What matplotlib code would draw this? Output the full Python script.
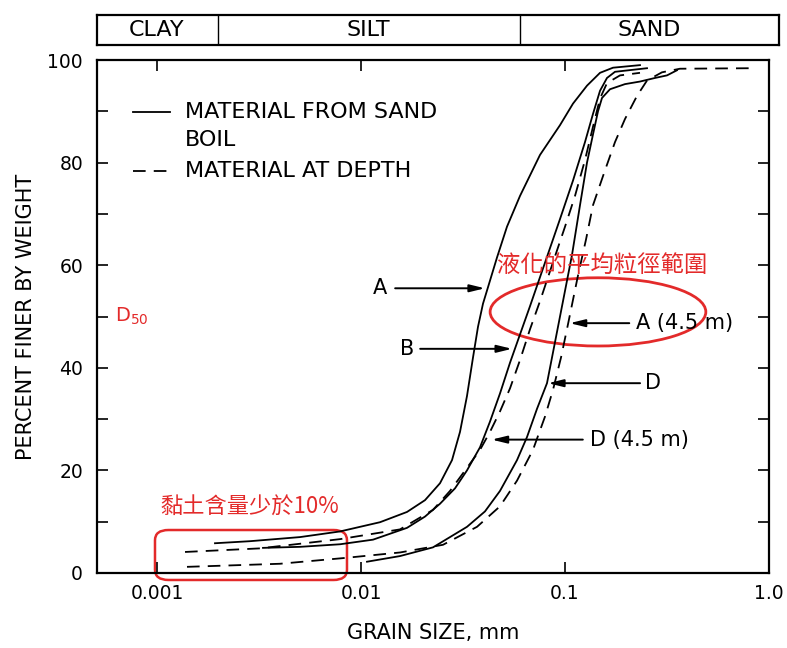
import matplotlib.pyplot as plt
from matplotlib.patches import Ellipse, FancyBboxPatch
from matplotlib.ticker import NullLocator

plt.rcParams['font.family'] = ['DejaVu Sans', 'Noto Sans CJK TC']

# grain size (mm) vs percent finer
# A - sand boil (solid)
a_size = [0.001924, 0.002857, 0.005023, 0.00789, 0.012392, 0.016807,
          0.020595, 0.024394, 0.027932, 0.030568, 0.033078, 0.0354,
          0.037456, 0.039628, 0.041925, 0.046416, 0.051946, 0.060167,
          0.075422, 0.094514, 0.10945, 0.128189, 0.148462, 0.171907, 0.23313]
a_pct = [5.8, 6.2, 7.0, 8.1, 9.9, 11.9, 14.2, 17.5, 22.0, 27.5, 34.5, 42.0,
         48.0, 52.5, 55.7, 61.5, 67.5, 73.5, 81.5, 87.3, 91.5, 95.0, 97.5,
         98.5, 99.0]
# B - sand boil (solid)
b_size = [0.003308, 0.005023, 0.00789, 0.011454, 0.016807, 0.020595,
          0.024394, 0.028894, 0.033078, 0.038308, 0.042875, 0.048014,
          0.053767, 0.060167, 0.06735, 0.079799, 0.094514, 0.10945,
          0.125314, 0.13717, 0.148462, 0.16064, 0.175828, 0.252348]
b_pct = [4.9, 5.1, 5.6, 6.5, 8.8, 11.0, 13.5, 16.5, 20.0, 24.5, 29.5, 35.0,
         41.0, 46.5, 52.0, 60.5, 69.0, 76.5, 84.0, 89.5, 94.0, 96.5, 97.7,
         98.4]
# D - sand boil (solid)
d_size = [0.010701, 0.01553, 0.02254, 0.033078, 0.040516, 0.048014,
          0.058171, 0.06512, 0.0729, 0.081607, 0.089331, 0.09777, 0.108228,
          0.118452, 0.128189, 0.13717, 0.145143, 0.15184, 0.16619, 0.19683,
          0.23313, 0.27624, 0.316228, 0.353997]
d_pct = [2.2, 3.3, 5.0, 9.0, 12.0, 16.0, 22.0, 26.5, 32.0, 37.0, 45.0, 53.0,
         62.0, 71.7, 80.0, 85.5, 90.0, 92.6, 94.3, 95.3, 95.8, 96.5, 97.0,
         98.0]
# D (4.5 m) - at depth (dashed)
d45_size = [0.001372, 0.003197, 0.00789, 0.01553, 0.02254, 0.02731,
            0.033078, 0.038308, 0.042875, 0.048014, 0.053767, 0.060167,
            0.06735, 0.075422, 0.086363, 0.1, 0.111944, 0.125314, 0.13717,
            0.148462, 0.16064, 0.18605, 0.23313]
d45_pct = [4.1, 4.8, 6.6, 8.5, 12.3, 16.0, 20.5, 24.0, 27.5, 31.5, 36.0,
           41.5, 47.5, 53.0, 60.0, 67.5, 73.5, 80.5, 87.0, 92.5, 95.5, 97.0,
           97.5]
# A (4.5 m) - at depth (dashed)
a45_size = [0.001403, 0.004006, 0.008161, 0.01553, 0.025235, 0.037037,
            0.048014, 0.058171, 0.069665, 0.079799, 0.08733, 0.095589,
            0.103442, 0.115806, 0.126749, 0.13717, 0.157067, 0.175828,
            0.19683, 0.225376, 0.252348, 0.2988, 0.366, 0.8349]
a45_pct = [1.2, 1.8, 2.9, 4.0, 5.5, 9.0, 13.0, 18.0, 24.0, 30.5, 35.7, 42.0,
           48.5, 58.0, 65.0, 71.7, 78.5, 84.0, 88.5, 93.0, 96.0, 97.6, 98.3,
           98.4]

# curve labels with arrows
labels = ['A', 'B', 'A (4.5 m)', 'D', 'D (4.5 m)']
label_x = [0.0124, 0.0168, 0.2228, 0.2466, 0.1327]
label_ha = ['center', 'center', 'left', 'left', 'left']
arrow_y = [55.5, 43.7, 48.7, 37.0, 26.0]
arrow_tail = [0.0147, 0.0195, 0.2066, 0.2333, 0.1223]
arrow_tip = [0.0405, 0.0550, 0.1055, 0.0826, 0.0437]

# soil classes across the top
band_names = ['CLAY', 'SILT', 'SAND']
band_edges = [0.002, 0.06]
band_mid = [0.001, 0.0109, 0.2596]

x_ticks = [0.001, 0.01, 0.1, 1.0]
x_ticklabels = ['0.001', '0.01', '0.1', '1.0']

red = '#e32a2a'

fig = plt.figure(figsize=(7.87, 6.48), dpi=100)
ax = fig.add_axes([97 / 787, 75 / 648, 672 / 787, 513 / 648])

solid = dict(color='black', lw=1.3)
dashed = dict(color='black', lw=1.3, ls=(0, (7, 4.5)))
ax.plot(a_size, a_pct, **solid)
ax.plot(b_size, b_pct, **solid)
ax.plot(d_size, d_pct, **solid)
ax.plot(d45_size, d45_pct, **dashed)
ax.plot(a45_size, a45_pct, **dashed)

for txt, tx, ha, y, tail, tip in zip(labels, label_x, label_ha, arrow_y,
                                     arrow_tail, arrow_tip):
    ax.annotate('', xy=(tip, y), xytext=(tail, y),
                arrowprops=dict(arrowstyle='-|>,head_length=0.9,head_width=0.22',
                                color='black', lw=1.4, shrinkA=0, shrinkB=0))
    ax.text(tx, y, txt, ha=ha, va='center', fontsize=15)

ax.set_xscale('log')
ax.set_xlim(0.000508, 1.0)
ax.set_ylim(0, 100)
ax.set_xticks(x_ticks)
ax.set_xticklabels(x_ticklabels)
ax.xaxis.set_minor_locator(NullLocator())
ax.set_yticks(range(0, 101, 20))
ax.set_yticks(range(10, 100, 20), minor=True)
ax.tick_params(which='both', direction='in', top=True, right=True,
               length=8, width=1.2, labelsize=13.5)
ax.tick_params(axis='x', pad=8)
ax.tick_params(axis='y', pad=10)
for s in ax.spines.values():
    s.set_linewidth(1.6)
ax.set_xlabel('GRAIN SIZE, mm', fontsize=15, labelpad=14)
ax.set_ylabel('PERCENT FINER BY WEIGHT', fontsize=15, labelpad=8)

# legend drawn by hand so the line sits beside the first text line
ax.plot([0.054, 0.109], [0.899, 0.899], transform=ax.transAxes, **solid)
ax.plot([0.054, 0.109], [0.784, 0.784], transform=ax.transAxes, **dashed)
ax.text(0.131, 0.899, 'MATERIAL FROM SAND', transform=ax.transAxes,
        va='center', fontsize=16)
ax.text(0.131, 0.844, 'BOIL', transform=ax.transAxes, va='center', fontsize=16)
ax.text(0.131, 0.784, 'MATERIAL AT DEPTH', transform=ax.transAxes,
        va='center', fontsize=16)

# red notes
cjk = ['Noto Sans CJK TC', 'DejaVu Sans']
ax.add_patch(Ellipse((0.7455, 0.509), 0.321, 0.133, transform=ax.transAxes,
                     fill=False, ec=red, lw=2))
ax.text(0.595, 0.600, '液化的平均粒徑範圍', transform=ax.transAxes,
        va='center', color=red, fontsize=16.8, family=cjk)
ax.add_patch(FancyBboxPatch((0.0863, -0.0136), 0.2857, 0.0974,
                            boxstyle='round,pad=0,rounding_size=0.02',
                            transform=ax.transAxes, fill=False, ec=red,
                            lw=1.8, clip_on=False))
ax.text(0.094, 0.129, '黏土含量少於10%', transform=ax.transAxes,
        va='center', color=red, fontsize=16, family=cjk)
ax.text(0.027, 0.501, r'D$_{\mathregular{50}}$', transform=ax.transAxes,
        va='center', color=red, fontsize=14)

# soil class band
band = fig.add_axes([97 / 787, (648 - 45) / 648, 682 / 787, 30 / 648])
band.set_xscale('log')
band.set_xlim(0.000508, 1.12)
band.set_ylim(0, 1)
band.set_xticks([])
band.set_yticks([])
band.xaxis.set_minor_locator(NullLocator())
for s in band.spines.values():
    s.set_linewidth(1.6)
for e in band_edges:
    band.axvline(e, color='black', lw=1.0)
for name, m in zip(band_names, band_mid):
    band.text(m, 0.5, name, ha='center', va='center', fontsize=16)

fig.savefig('out.png', dpi=100)
